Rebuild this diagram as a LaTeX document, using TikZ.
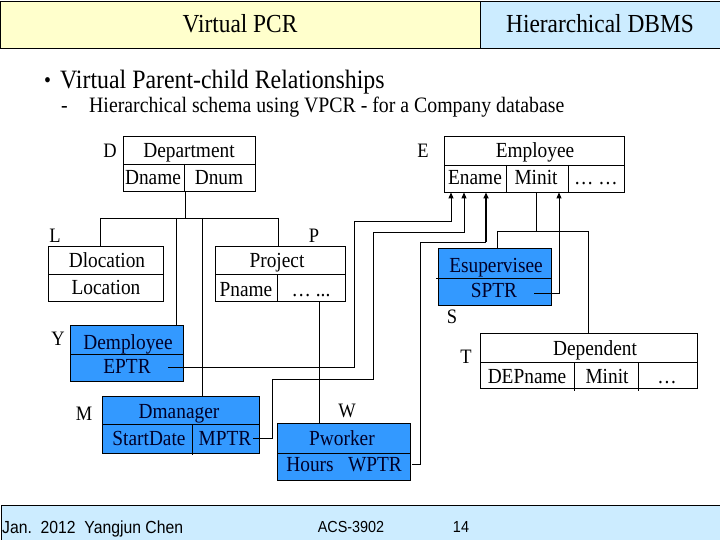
\documentclass[tikz,border=0pt]{standalone}
\usepackage{fontspec}
\setmainfont{Liberation Serif}[FakeStretch=0.9]
\newfontfamily\footfont{Liberation Sans}[FakeStretch=0.9]
\usetikzlibrary{arrows.meta}
\definecolor{titleyellow}{RGB}{255,255,204}
\definecolor{paleblue}{RGB}{204,236,255}
\definecolor{boxblue}{RGB}{51,153,255}
\definecolor{navytext}{RGB}{0,0,40}
\begin{document}
\begin{tikzpicture}[x=1pt,y=-1pt,
  wbox/.style={draw=black, line width=0.9pt, fill=white, inner sep=0pt},
  bbox/.style={draw=black, line width=0.9pt, fill=boxblue, inner sep=0pt},
  txt/.style={anchor=base, inner sep=0pt, font=\fontsize{21.5}{23}\selectfont},
  btxt/.style={txt, text=navytext},
  lbl/.style={anchor=base, inner sep=0pt, font=\fontsize{20.5}{22}\selectfont},
  conn/.style={line width=0.9pt},
  arr/.style={line width=0.9pt, -{Triangle[length=6pt,width=5pt]}},
  divider/.style={line width=0.9pt}
]
\useasboundingbox (0,0) rectangle (720,540);
\fill[white] (0,0) rectangle (720,540);

% title bar
\node[draw, line width=1.2pt, fill=titleyellow, minimum width=480pt, minimum height=47pt, anchor=north west, inner sep=0pt] (tl) at (0,0.6) {};
\node[draw, line width=1.2pt, fill=paleblue, minimum width=240pt, minimum height=47pt, anchor=north west, inner sep=0pt] (tr) at (480,0.6) {};
\node[anchor=base, inner sep=0pt, font=\fontsize{26}{28}\selectfont] (ttl) at (240,33) {Virtual PCR};
\node[anchor=base, inner sep=0pt, font=\fontsize{26}{28}\selectfont] (ttr) at (600,33) {Hierarchical DBMS};

% bullet lines
\node[anchor=base west, inner sep=0pt, font=\fontsize{22}{24}\selectfont] (bul) at (44,88) {•};
\node[anchor=base west, inner sep=0pt, font=\fontsize{26.5}{28}\selectfont] (bt) at (60,89) {Virtual Parent-child Relationships};
\node[anchor=base west, inner sep=0pt, font=\fontsize{22}{24}\selectfont] (dash) at (61,113) {-};
\node[anchor=base west, inner sep=0pt, font=\fontsize{22}{24}\selectfont] (st) at (89,113) {Hierarchical schema using VPCR - for a Company database};

% ---------- boxes ----------
% Department
\node[wbox, minimum width=132pt, minimum height=55pt] (dept) at (189,163.5) {};
\draw[divider] (123,164) -- (255,164) (184,164) -- (184,191);
\node[txt] (deptn) at (189,158) {Department};
\node[txt] (dname) at (153,185) {Dname};
\node[txt] (dnum) at (219,185) {Dnum};
\node[lbl] (lD) at (110,158) {D};

% Dlocation
\node[wbox, minimum width=115pt, minimum height=55pt] (dloc) at (105.5,273.5) {};
\draw[divider] (48,274) -- (163,274);
\node[txt] (dlocn) at (107,267) {Dlocation};
\node[txt] (loc) at (106,294) {Location};
\node[lbl] (lL) at (55,243) {L};

% Project
\node[wbox, minimum width=130pt, minimum height=55pt] (proj) at (280,273.5) {};
\draw[divider] (215,274) -- (345,274) (277,274) -- (277,301);
\node[txt] (projn) at (277,267) {Project};
\node[txt] (pname) at (246,296) {Pname};
\node[txt] (pdots) at (311,296) {… ...};
\node[lbl] (lP) at (314,243) {P};

% Demployee
\node[bbox, minimum width=113pt, minimum height=56pt] (demp) at (126.5,353) {};
\draw[divider] (70,354) -- (183,354);
\node[btxt] (dempn) at (128,349) {Demployee};
\node[btxt] (eptr) at (127,373) {EPTR};
\node[lbl] (lY) at (58,345) {Y};

% Dmanager
\node[bbox, minimum width=157pt, minimum height=57pt] (dman) at (180.5,424.5) {};
\draw[divider] (102,424) -- (259,424) (192,424) -- (192,455);
\node[btxt] (dmann) at (179,418) {Dmanager};
\node[btxt] (sdate) at (149,445) {StartDate};
\node[btxt] (mptr) at (225,445) {MPTR};
\node[lbl] (lM) at (84,420) {M};

% Pworker
\node[bbox, minimum width=133pt, minimum height=57pt] (pwork) at (343.5,451.5) {};
\draw[divider] (277,453) -- (410,453);
\node[btxt] (pworkn) at (342,445) {Pworker};
\node[btxt] (hours) at (310,471) {Hours};
\node[btxt] (wptr) at (375,471) {WPTR};
\node[lbl] (lW) at (347,417) {W};

% Employee
\node[wbox, minimum width=180pt, minimum height=56pt] (emp) at (534,164) {};
\draw[divider] (444,165) -- (624,165) (506,165) -- (506,192) (568,165) -- (568,192);
\node[txt] (empn) at (535,158) {Employee};
\node[txt] (ename) at (475,185) {Ename};
\node[txt] (minit) at (536,185) {Minit};
\node[txt] (edots) at (596,185) {… …};
\node[lbl] (lE) at (423,158) {E};

% Esupervisee
\node[bbox, minimum width=113pt, minimum height=57pt] (esup) at (494.5,276.5) {};
\draw[divider] (436,278) -- (551,278);
\node[btxt] (esupn) at (496,272) {Esupervisee};
\node[btxt] (sptr) at (494,297) {SPTR};
\node[lbl] (lS) at (452,323) {S};

% Dependent
\node[wbox, minimum width=217pt, minimum height=55pt] (dep) at (588.5,360.5) {};
\draw[divider] (480,362) -- (697,362) (574,362) -- (574,391) (638,362) -- (638,391);
\node[txt] (depn) at (595,355) {Dependent};
\node[txt] (depname) at (527,383) {DEPname};
\node[txt] (dminit) at (607,383) {Minit};
\node[txt] (ddots) at (667,383) {…};
\node[lbl] (lT) at (466,363) {T};

% ---------- connectors ----------
% Department tree
\coordinate (dbus) at (185,218);
\coordinate (b1) at (100,218);
\coordinate (b2) at (176,218);
\coordinate (b3) at (202,218);
\coordinate (b4) at (278,218);
\draw[conn] (dept.south -| dbus) -- (dbus);
\draw[conn] (b1) -- (b4);
\draw[conn] (b1) -- (b1 |- dloc.north);
\draw[conn] (b2) -- (b2 |- demp.north);
\draw[conn] (b3) -- (b3 |- dman.north);
\draw[conn] (b4) -- (b4 |- proj.north);
% Project -> Pworker
\coordinate (pp) at (319,301);
\draw[conn] (pp |- proj.south) -- (pp |- pwork.north);

% Employee tree
\coordinate (ebus) at (536,231);
\coordinate (e1) at (497,231);
\coordinate (e2) at (588,231);
\draw[conn] (emp.south -| ebus) -- (ebus);
\draw[conn] (e1) -- (e2);
\draw[conn] (e1) -- (e1 |- esup.north);
\draw[conn] (e2) -- (e2 |- dep.north);

% EPTR -> Employee
\coordinate (eptrp) at (168,367);
\coordinate (a1) at (451,192);
\draw[arr] (eptrp) -- (354,367) -- (354,221) -- (451,221) -- (a1 |- emp.south);
% MPTR -> Employee
\coordinate (mptrp) at (253,438);
\coordinate (a2) at (464,192);
\draw[arr] (mptrp) -- (272,438) -- (272,379) -- (373,379) -- (373,232) -- (464,232) -- (a2 |- emp.south);
% WPTR -> Employee
\coordinate (wptrp) at (412,464);
\coordinate (a3) at (486,192);
\draw[conn] (wptrp) -- (420,464) -- (420,242) -- (486,242);
\draw[line width=1.6pt, -{Triangle[length=6pt,width=5pt]}] (486,242) -- (a3 |- emp.south);
% SPTR -> Employee
\coordinate (sptrp) at (534,293);
\coordinate (a4) at (559,192);
\draw[arr] (sptrp) -- (559,293) -- (a4 |- emp.south);

% footer
\node[draw, line width=1.2pt, fill=paleblue, minimum width=722pt, minimum height=37pt, anchor=north west, inner sep=0pt] (foot) at (0.6,505) {};
\node[anchor=base west, inner sep=0pt, font=\footfont\fontsize{17.5}{19}\selectfont] (f1) at (2,533) {Jan.\ \ 2012\ \ Yangjun Chen};
\node[anchor=base, inner sep=0pt, font=\footfont\fontsize{16}{18}\selectfont] (f2) at (351,532) {ACS-3902};
\node[anchor=base, inner sep=0pt, font=\footfont\fontsize{16}{18}\selectfont] (f3) at (461,532) {14};
\end{tikzpicture}
\end{document}
